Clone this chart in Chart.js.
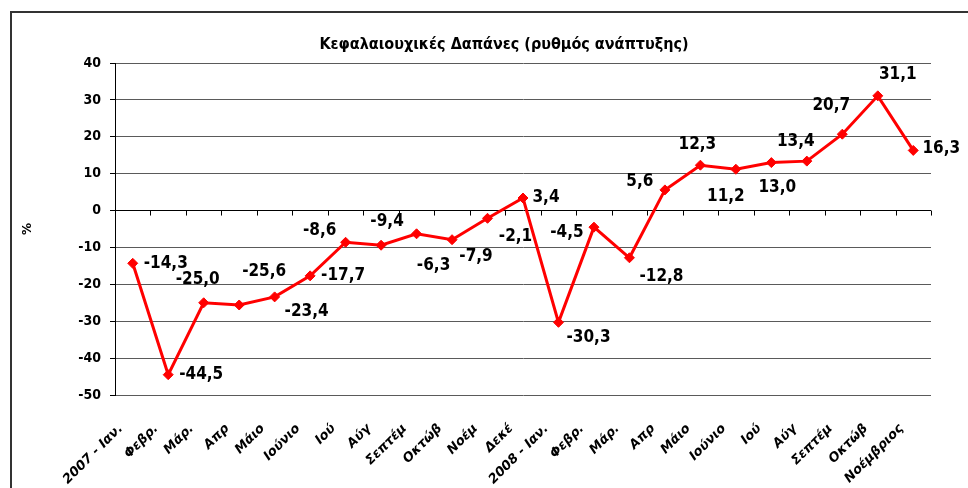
<!DOCTYPE html>
<html>
<head>
<meta charset="utf-8">
<script src="https://cdn.jsdelivr.net/npm/chart.js@4.4.1/dist/chart.umd.min.js"></script>
<style>
  html, body { margin: 0; padding: 0; background: #fff; overflow: hidden; }
  #wrap { position: relative; width: 968px; height: 488px; overflow: hidden; }
  #frame { position: absolute; left: 10px; top: 11px; width: 2000px; height: 2000px;
           border: 2px solid #333; pointer-events: none; }
</style>
</head>
<body>
<div id="wrap">
  <canvas id="capex" width="968" height="488"></canvas>
  <div id="frame"></div>
</div>
<script>
// Κεφαλαιουχικές Δαπάνες - monthly growth rate (%)
var chartTitle = "Κεφαλαιουχικές Δαπάνες (ρυθμός ανάπτυξης)";
var months = ["2007 - Ιαν.", "Φεβρ.", "Μάρ.", "Απρ", "Μάιο", "Ιούνιο", "Ιού", "Αύγ", "Σεπτέμ", "Οκτώβ", "Νοέμ", "Δεκέ",
              "2008 - Ιαν.", "Φεβρ.", "Μάρ.", "Απρ", "Μάιο", "Ιούνιο", "Ιού", "Αύγ", "Σεπτέμ", "Οκτώβ", "Νοέμβριος"];
var growth = [-14.3, -44.5, -25.0, -25.6, -23.4, -17.7, -8.6, -9.4, -6.3, -7.9, -2.1, 3.4,
              -30.3, -4.5, -12.8, 5.6, 12.3, 11.2, 13.0, 13.4, 20.7, 31.1, 16.3];
var yTicks = [-50, -40, -30, -20, -10, 0, 10, 20, 30, 40];

// where each value label sits relative to its point (dx, dy in px)
var labelShift = [[33,0],[33,0],[-6,-23],[25,-33],[32,15],[33,0],[-26,-12],[6,-24],[17,32],[24,17],[28,18],[23,0],
                  [30,15],[-27,5],[32,19],[-25,-8],[-3,-21],[-10,27],[6,25],[-11,-20],[-11,-29],[20,-21],[28,-2]];

var condensed = "'DejaVu Sans Condensed', 'DejaVu Sans', sans-serif";

var valueLabels = {
    id: "valueLabels",
    afterDatasetsDraw: function(chart) {
        var ctx = chart.ctx;
        var pts = chart.getDatasetMeta(0).data;
        ctx.save();
        ctx.font = "bold 17px " + condensed;
        ctx.fillStyle = "#000";
        ctx.textAlign = "center";
        ctx.textBaseline = "middle";
        for (var i = 0; i < pts.length; i++) {
            var txt = growth[i].toFixed(1).replace(".", ",");
            ctx.fillText(txt, pts[i].x + labelShift[i][0], pts[i].y + labelShift[i][1]);
        }
        // title, centred a little left of the plot middle like the original
        ctx.font = "bold 16px " + condensed;
        ctx.fillText(chartTitle, 504, 45);
        ctx.restore();
    }
};

// category tick marks sit on the zero line
var zeroTicks = {
    id: "zeroTicks",
    afterDraw: function(chart) {
        var xs = chart.scales.x, ys = chart.scales.y;
        var y0 = ys.getPixelForValue(0);
        var ctx = chart.ctx;
        ctx.save();
        ctx.strokeStyle = "#000";
        ctx.lineWidth = 1;
        ctx.beginPath();
        for (var i = 0; i <= months.length; i++) {
            var x;
            if (i === 0) x = xs.left;
            else if (i === months.length) x = xs.right;
            else x = (xs.getPixelForValue(i - 1) + xs.getPixelForValue(i)) / 2;
            x = Math.round(x) + 0.5;
            ctx.moveTo(x, y0);
            ctx.lineTo(x, y0 + 5);
        }
        ctx.stroke();
        ctx.restore();
    }
};

var ctx1 = document.getElementById("capex").getContext("2d");
var myChart1 = new Chart(ctx1, {
    type: "line",
    data: {
        labels: months,
        datasets: [{
            label: "%",
            data: growth,
            borderColor: "#ff0000",
            backgroundColor: "#ff0000",
            borderWidth: 3,
            tension: 0,
            pointStyle: "rectRot",
            pointRadius: 5,
            pointBorderWidth: 1
        }]
    },
    options: {
        responsive: false,
        animation: false,
        layout: { padding: { top: 63, right: 37, left: 0, bottom: 0 } },
        plugins: {
            legend: { display: false },
            tooltip: { enabled: false },
            title: { display: false }
        },
        scales: {
            x: {
                offset: true,
                grid: { display: false, drawTicks: false },
                border: { display: false },
                ticks: {
                    autoSkip: false,
                    maxRotation: 45,
                    minRotation: 45,
                    padding: 26,
                    labelOffset: -12,
                    color: "#000",
                    font: { family: "'DejaVu Sans', sans-serif", size: 13, weight: "bold", style: "italic" }
                },
                afterFit: function(scale) { scale.height = 93; }
            },
            y: {
                min: -50,
                max: 40,
                afterBuildTicks: function(scale) {
                    scale.ticks = yTicks.map(function(v) { return { value: v }; });
                },
                grid: {
                    color: function(c) { return c.tick && c.tick.value === 0 ? "#000" : "#5a5a5a"; },
                    tickColor: "#000",
                    tickLength: 5,
                    lineWidth: 1
                },
                border: { display: true, color: "#000", width: 1 },
                ticks: {
                    padding: 9,
                    color: "#000",
                    font: { family: condensed, size: 14, weight: "bold" }
                },
                title: {
                    display: true,
                    text: "%",
                    color: "#000",
                    padding: { top: 21, bottom: 0 },
                    font: { family: "'DejaVu Sans', sans-serif", size: 12, weight: "bold" }
                },
                afterFit: function(scale) { scale.width = 115; }
            }
        }
    },
    plugins: [valueLabels, zeroTicks]
});
</script>
</body>
</html>
